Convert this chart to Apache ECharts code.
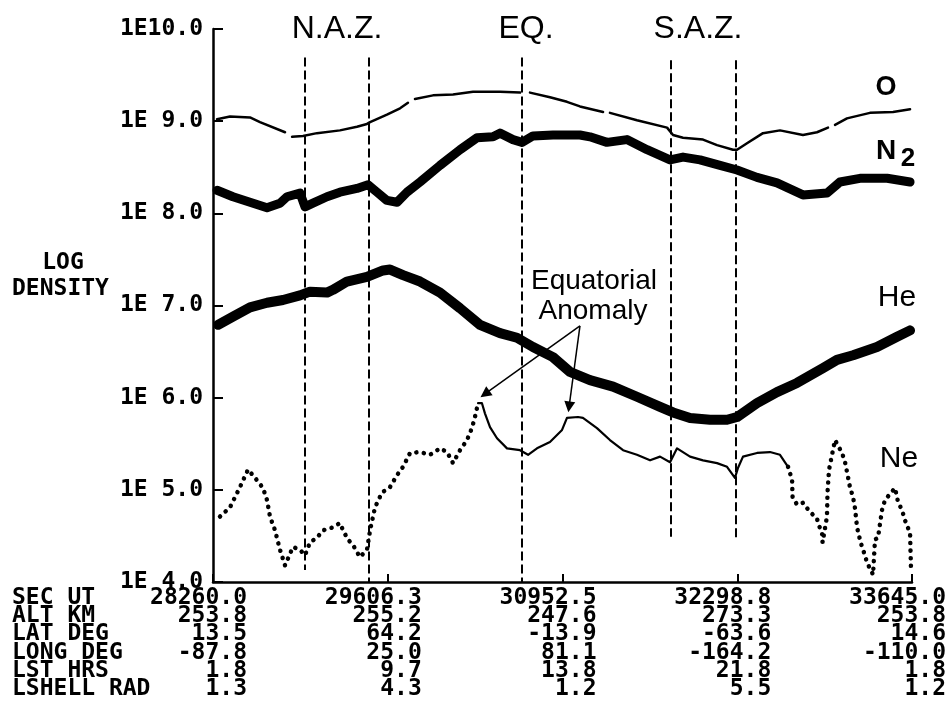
<!DOCTYPE html>
<html>
<head>
<meta charset="utf-8">
<script src="https://cdn.jsdelivr.net/npm/echarts@6/dist/echarts.min.js"></script>
<style>
  html, body { margin: 0; padding: 0; background: #fff; }
  #chart { width: 952px; height: 716px; }
</style>
</head>
<body>
<div id="chart"></div>
<script>
// Time axis (seconds UT) and log10 density axis
const X_MIN = 28260, X_MAX = 33645, X_STEP = 1346.25;
const yTickLabels = ['1E 4.0', '1E 5.0', '1E 6.0', '1E 7.0', '1E 8.0', '1E 9.0', '1E10.0'];

// Orbit parameters printed under each time tick
const rowNames = ['SEC UT', 'ALT KM', 'LAT DEG', 'LONG DEG', 'LST HRS', 'LSHELL RAD'];
const secUt   = ['28260.0', '29606.3', '30952.5', '32298.8', '33645.0'];
const altKm   = ['253.8', '255.2', '247.6', '273.3', '253.8'];
const latDeg  = ['13.5', '64.2', '-13.9', '-63.6', '14.6'];
const longDeg = ['-87.8', '25.0', '81.1', '-164.2', '-110.0'];
const lstHrs  = ['1.8', '9.7', '13.8', '21.8', '1.8'];
const lshell  = ['1.3', '4.3', '1.2', '5.5', '1.2'];

// Zone boundaries: auroral zones and equator crossing
const zoneSec    = [28965, 29460, 30638, 31790, 32285];
const zoneTop    = [9.69, 9.69, 9.69, 9.66, 9.66];
const zoneBottom = [4.13, 4.0, 4.0, 4.49, 4.46];

// Log density samples [sec UT, log10 n]; '-' marks a data dropout
const oxygen = [
  [28291, 9.02], [28391, 9.05], [28545, 9.04], [28622, 8.99], [28815, 8.88],
  [28840, '-'],
  [28869, 8.83], [28953, 8.84], [29061, 8.87], [29238, 8.90], [29369, 8.94], [29446, 8.97],
  [29470, 8.99], [29600, 9.07], [29701, 9.14], [29762, 9.20],
  [29790, '-'],
  [29816, 9.24], [29955, 9.28], [30109, 9.29], [30263, 9.32], [30471, 9.32], [30625, 9.31],
  [30660, '-'],
  [30702, 9.31], [30856, 9.26], [30987, 9.21], [31087, 9.16], [31265, 9.10],
  [31290, '-'],
  [31318, 9.09], [31526, 9.01], [31758, 8.93], [31804, 8.85], [31881, 8.82], [32035, 8.80],
  [32143, 8.74], [32266, 8.69], [32297, 8.69], [32374, 8.76], [32497, 8.87], [32628, 8.90],
  [32805, 8.85], [32913, 8.88], [32998, 8.93],
  [33025, '-'],
  [33052, 8.96], [33144, 9.03], [33321, 9.09], [33499, 9.10], [33630, 9.13]
];

const nitrogen = [
  [28291, 8.25], [28414, 8.18], [28545, 8.12], [28676, 8.06], [28776, 8.11], [28830, 8.18],
  [28930, 8.22], [28969, 8.07], [29030, 8.11], [29138, 8.18], [29238, 8.23], [29369, 8.27],
  [29454, 8.31], [29523, 8.23], [29600, 8.14], [29678, 8.12], [29755, 8.23], [29855, 8.34],
  [30009, 8.52], [30163, 8.69], [30294, 8.82], [30417, 8.83], [30471, 8.87], [30571, 8.80],
  [30641, 8.77], [30725, 8.84], [30879, 8.85], [31087, 8.85], [31164, 8.83], [31295, 8.77],
  [31449, 8.80], [31604, 8.69], [31781, 8.58], [31881, 8.61], [32012, 8.58], [32166, 8.52],
  [32297, 8.47], [32451, 8.39], [32605, 8.33], [32805, 8.20], [32990, 8.22], [33090, 8.34],
  [33244, 8.38], [33453, 8.38], [33630, 8.34]
];

const helium = [
  [28299, 6.79], [28414, 6.88], [28545, 6.98], [28676, 7.03], [28799, 7.06], [28930, 7.11],
  [29007, 7.15], [29138, 7.14], [29184, 7.17], [29292, 7.26], [29446, 7.31], [29570, 7.38],
  [29624, 7.39], [29724, 7.33], [29855, 7.26], [30009, 7.14], [30163, 6.97], [30317, 6.79],
  [30471, 6.70], [30602, 6.65], [30725, 6.55], [30879, 6.44], [31010, 6.28], [31164, 6.19],
  [31342, 6.12], [31526, 6.01], [31704, 5.90], [31804, 5.84], [31935, 5.78], [32089, 5.76],
  [32220, 5.76], [32297, 5.79], [32451, 5.94], [32605, 6.06], [32759, 6.16], [32959, 6.32],
  [33067, 6.41], [33191, 6.46], [33375, 6.55], [33530, 6.66], [33630, 6.73]
];

// Neon: low-count stretches are plotted as dots, the rest as a line
const neonEarly = [
  [28314, 4.71], [28391, 4.81], [28468, 5.03], [28530, 5.22], [28584, 5.13], [28645, 5.02],
  [28676, 4.89], [28699, 4.71], [28738, 4.56], [28776, 4.35], [28815, 4.18], [28876, 4.38],
  [28930, 4.35], [28969, 4.29], [29007, 4.43], [29061, 4.48], [29107, 4.56], [29177, 4.59],
  [29238, 4.64], [29262, 4.56], [29300, 4.46], [29339, 4.40], [29392, 4.27], [29446, 4.35],
  [29470, 4.56], [29508, 4.81], [29562, 4.97], [29624, 5.03], [29678, 5.16], [29724, 5.25],
  [29778, 5.40], [29855, 5.41], [29932, 5.38], [30009, 5.45], [30063, 5.41], [30109, 5.29],
  [30163, 5.43], [30217, 5.54], [30255, 5.67], [30278, 5.79], [30302, 5.94]
];
const neonMiddle = [
  [30302, 5.94], [30332, 5.94], [30355, 5.83], [30394, 5.68], [30448, 5.56], [30525, 5.45],
  [30625, 5.43], [30687, 5.38], [30756, 5.45], [30856, 5.52], [30949, 5.65], [30987, 5.78],
  [31072, 5.79], [31110, 5.78], [31218, 5.67], [31318, 5.54], [31419, 5.43], [31526, 5.38],
  [31627, 5.32], [31704, 5.36], [31781, 5.30], [31835, 5.45], [31935, 5.36], [32035, 5.32],
  [32143, 5.29], [32220, 5.25], [32281, 5.13], [32305, 5.24], [32343, 5.36], [32451, 5.40],
  [32551, 5.41], [32628, 5.38], [32690, 5.25]
];
const neonLate = [
  [32690, 5.25], [32721, 5.11], [32725, 4.92], [32759, 4.84], [32805, 4.86], [32859, 4.76],
  [32913, 4.69], [32921, 4.64], [32952, 4.53], [32956, 4.43], [32990, 4.71], [32994, 4.97],
  [33006, 5.22], [33052, 5.54], [33106, 5.40], [33129, 5.30], [33152, 5.14], [33167, 5.03],
  [33191, 4.92], [33206, 4.80], [33222, 4.59], [33244, 4.46], [33260, 4.38], [33283, 4.29],
  [33298, 4.21], [33345, 4.08], [33360, 4.46], [33383, 4.48], [33414, 4.78], [33437, 4.89],
  [33514, 5.02], [33537, 4.87], [33568, 4.78], [33591, 4.67], [33630, 4.53], [33637, 4.16]
];

// "Equatorial Anomaly" callout: shared origin and the two neon crests it points at
const anomalyFrom = [31087, 6.78];
const anomalyPeaks = [[30355, 6.04], [31003, 5.90]];

const MONO = 'DejaVu Sans Mono';
const SANS = 'Liberation Sans';
const tableRows = [secUt, altKm, latDeg, longDeg, lstHrs, lshell];

const chart = echarts.init(document.getElementById('chart'), null, { renderer: 'canvas' });

const stroke = (w, type) => ({ color: '#000', width: w, type: type || 'solid', cap: 'round', join: 'round' });

chart.setOption({
  animation: false,
  backgroundColor: '#fff',
  grid: { left: 213, right: 40, top: 29, bottom: 134, containLabel: false, outerBoundsMode: 'none' },
  xAxis: {
    type: 'value',
    min: X_MIN, max: X_MAX, interval: X_STEP,
    axisLine: { show: true, onZero: false, lineStyle: { color: '#000', width: 2.5 } },
    axisTick: { show: true, inside: true, length: 8, lineStyle: { color: '#000', width: 2 } },
    splitLine: { show: false },
    axisLabel: {
      show: true,
      showMinLabel: true,
      showMaxLabel: true,
      margin: 7,
      align: 'center',
      formatter: function (v) {
        const i = Math.round((v - X_MIN) / X_STEP);
        return tableRows.map(r => '{v|' + r[i] + '}').join('\n');
      },
      rich: {
        v: {
          fontFamily: MONO, fontWeight: 'bold', fontSize: 23, color: '#000',
          lineHeight: 18.2, width: 68, align: 'right'
        }
      }
    }
  },
  yAxis: {
    type: 'value',
    min: 4, max: 10, interval: 1,
    axisLine: { show: true, onZero: false, lineStyle: { color: '#000', width: 2.5 } },
    axisTick: { show: true, inside: true, length: 10, lineStyle: { color: '#000', width: 2 } },
    splitLine: { show: false },
    axisLabel: {
      formatter: v => yTickLabels[Math.round(v - 4)],
      fontFamily: MONO, fontWeight: 'bold', fontSize: 23, color: '#000',
      margin: 10, verticalAlign: 'middle', padding: [0, 0, 16, 0]
    }
  },
  series: [
    {
      name: 'O', type: 'line', data: oxygen, symbol: 'none', connectNulls: false,
      lineStyle: stroke(2.5), z: 2,
      markLine: {
        silent: true, z: 1, symbol: ['none', 'none'], label: { show: false },
        lineStyle: { color: '#000', width: 2, type: [9, 4] },
        data: zoneSec.map((s, i) => [{ coord: [s, zoneTop[i]] }, { coord: [s, zoneBottom[i]] }])
      }
    },
    { name: 'N2', type: 'line', data: nitrogen, symbol: 'none', lineStyle: stroke(9), z: 2 },
    { name: 'He', type: 'line', data: helium, symbol: 'none', lineStyle: stroke(10), z: 2 },
    { name: 'Ne', type: 'line', data: neonEarly, symbol: 'none', lineStyle: stroke(4.5, [0.1, 7.5]), z: 2 },
    {
      name: 'Ne', type: 'line', data: neonMiddle, symbol: 'none', lineStyle: stroke(2.2), z: 2,
      markLine: {
        silent: true, symbol: ['none', 'triangle'], symbolSize: 11, label: { show: false },
        lineStyle: { color: '#000', width: 1.5, type: 'solid' },
        itemStyle: { color: '#000' },
        data: anomalyPeaks.map(p => [{ coord: anomalyFrom }, { coord: p }])
      }
    },
    { name: 'Ne', type: 'line', data: neonLate, symbol: 'none', lineStyle: stroke(4.5, [0.1, 7.5]), z: 2 }
  ],
  graphic: [
    // y-axis title
    { type: 'text', x: 63, y: 263, style: { text: 'LOG', fontFamily: MONO, fontWeight: 'bold', fontSize: 23, fill: '#000', align: 'center', verticalAlign: 'middle' } },
    { type: 'text', x: 12, y: 289, style: { text: 'DENSITY', fontFamily: MONO, fontWeight: 'bold', fontSize: 23, fill: '#000', align: 'left', verticalAlign: 'middle' } },
    // orbit-parameter row names
    { type: 'text', x: 12, y: 589, style: { text: rowNames.join('\n'), fontFamily: MONO, fontWeight: 'bold', fontSize: 23, lineHeight: 18.2, fill: '#000', align: 'left', verticalAlign: 'top' } },
    // zone captions
    { type: 'text', x: 337, y: 29, style: { text: 'N.A.Z.', fontFamily: SANS, fontSize: 32, fill: '#000', align: 'center', verticalAlign: 'middle' } },
    { type: 'text', x: 526, y: 29, style: { text: 'EQ.', fontFamily: SANS, fontSize: 32, fill: '#000', align: 'center', verticalAlign: 'middle' } },
    { type: 'text', x: 698, y: 29, style: { text: 'S.A.Z.', fontFamily: SANS, fontSize: 32, fill: '#000', align: 'center', verticalAlign: 'middle' } },
    // species labels
    { type: 'text', x: 886, y: 88, style: { text: 'O', fontFamily: SANS, fontWeight: 'bold', fontSize: 27, fill: '#000', align: 'center', verticalAlign: 'middle' } },
    { type: 'text', x: 886, y: 151, style: { text: 'N', fontFamily: SANS, fontWeight: 'bold', fontSize: 28, fill: '#000', align: 'center', verticalAlign: 'middle' } },
    { type: 'text', x: 908, y: 159, style: { text: '2', fontFamily: SANS, fontWeight: 'bold', fontSize: 26, fill: '#000', align: 'center', verticalAlign: 'middle' } },
    { type: 'text', x: 897, y: 298, style: { text: 'He', fontFamily: SANS, fontSize: 30, fill: '#000', align: 'center', verticalAlign: 'middle' } },
    { type: 'text', x: 899, y: 459, style: { text: 'Ne', fontFamily: SANS, fontSize: 30, fill: '#000', align: 'center', verticalAlign: 'middle' } },
    // callout text
    { type: 'text', x: 594, y: 281, style: { text: 'Equatorial', fontFamily: SANS, fontSize: 28, fill: '#000', align: 'center', verticalAlign: 'middle' } },
    { type: 'text', x: 593, y: 311, style: { text: 'Anomaly', fontFamily: SANS, fontSize: 28, fill: '#000', align: 'center', verticalAlign: 'middle' } }
  ]
});
</script>
</body>
</html>
